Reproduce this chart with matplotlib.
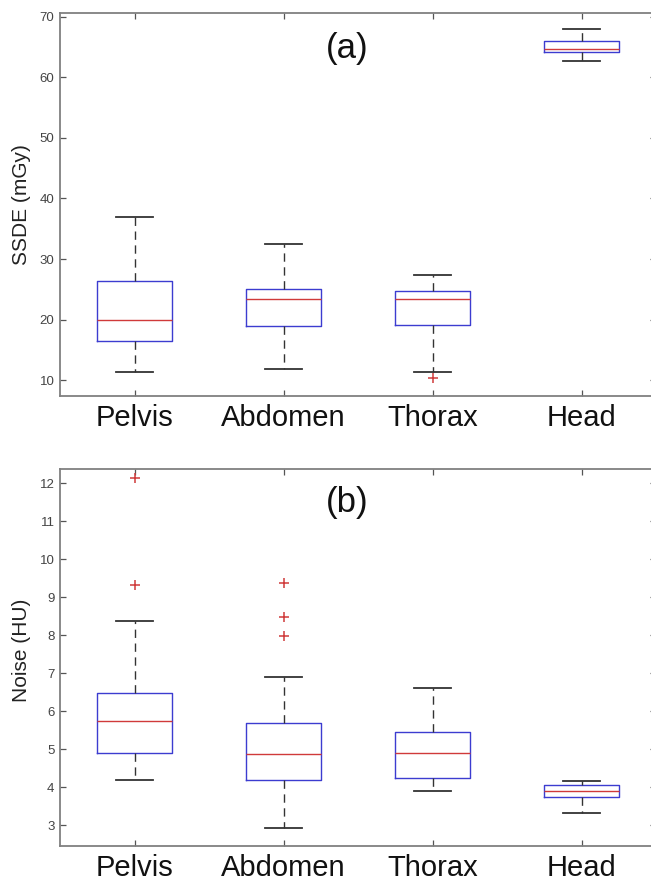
import matplotlib
matplotlib.use("Agg")
import matplotlib.pyplot as plt

plt.rcParams['font.family'] = ['Liberation Sans', 'DejaVu Sans']

categories = ["Pelvis", "Abdomen", "Thorax", "Head"]

# (a) SSDE (mGy): lower whisker, Q1, median, Q3, upper whisker, outliers
ssde_low = [11.3, 11.8, 11.4, 62.6]
ssde_q1 = [16.5, 18.9, 19.1, 64.1]
ssde_med = [19.9, 23.4, 23.4, 64.7]
ssde_q3 = [26.3, 25.1, 24.8, 66.0]
ssde_high = [37.0, 32.4, 27.4, 68.0]
ssde_out = [[], [], [10.4], []]

# (b) Noise (HU)
noise_low = [4.19, 2.92, 3.91, 3.31]
noise_q1 = [4.91, 4.18, 4.23, 3.73]
noise_med = [5.75, 4.87, 4.89, 3.90]
noise_q3 = [6.48, 5.68, 5.44, 4.05]
noise_high = [8.37, 6.89, 6.61, 4.15]
noise_out = [[12.15, 9.32], [9.38, 8.48, 7.99], [], []]

ssde_ticks = [10, 20, 30, 40, 50, 60, 70]
noise_ticks = [3, 4, 5, 6, 7, 8, 9, 10, 11, 12]


def stats(low, q1, med, q3, high, out):
    return [dict(whislo=a, q1=b, med=c, q3=d, whishi=e, fliers=f, label=n)
            for a, b, c, d, e, f, n in zip(low, q1, med, q3, high, out, categories)]


fig = plt.figure(figsize=(6.51, 8.81), dpi=100)
ax1 = fig.add_axes([0.0922, 0.5505, 0.9155, 0.4342])
ax2 = fig.add_axes([0.0922, 0.0397, 0.9155, 0.4280])

box_c = '#3c3cd0'
med_c = '#d03a3a'
wh_c = '#333333'
spine_c = '#808080'


def draw(ax, st, ylim, yticks, ylabel, tag, tagy, labely):
    ax.bxp(st, positions=[1, 2, 3, 4], widths=0.5, showfliers=True,
           boxprops=dict(color=box_c, linewidth=1.0),
           medianprops=dict(color=med_c, linewidth=1.0),
           whiskerprops=dict(color=wh_c, linewidth=1.0, linestyle=(0, (6, 4))),
           capprops=dict(color=wh_c, linewidth=1.3),
           flierprops=dict(marker='+', markeredgecolor=med_c, markersize=7,
                           markeredgewidth=1.1, linestyle='none'))
    ax.set_xlim(0.5, 4.5)
    ax.set_ylim(*ylim)
    ax.set_yticks(yticks)
    ax.set_xticks([1, 2, 3, 4])
    ax.set_xticklabels(categories, fontsize=21, color='#111111')
    ax.tick_params(axis='y', direction='in', length=4, width=0.9, color='#555555',
                   labelsize=9.5, labelcolor='#444444', pad=4, right=True)
    ax.tick_params(axis='x', direction='in', length=4, width=0.9, color='#555555',
                   pad=6, top=True)
    for s in ax.spines.values():
        s.set_color(spine_c)
        s.set_linewidth(1.3)
    ax.set_ylabel(ylabel, fontsize=15, color='#222222')
    ax.yaxis.set_label_coords(-0.049, labely)
    ax.text(2.43, tagy, tag, fontsize=25, ha='center', va='center', color='#111111')


draw(ax1, stats(ssde_low, ssde_q1, ssde_med, ssde_q3, ssde_high, ssde_out),
     (7.4, 70.5), ssde_ticks, 'SSDE (mGy)', '(a)', 64.7, 0.5)
draw(ax2, stats(noise_low, noise_q1, noise_med, noise_q3, noise_high, noise_out),
     (2.45, 12.38), noise_ticks, 'Noise (HU)', '(b)', 11.5, 0.52)

fig.savefig('out.png', dpi=100)
